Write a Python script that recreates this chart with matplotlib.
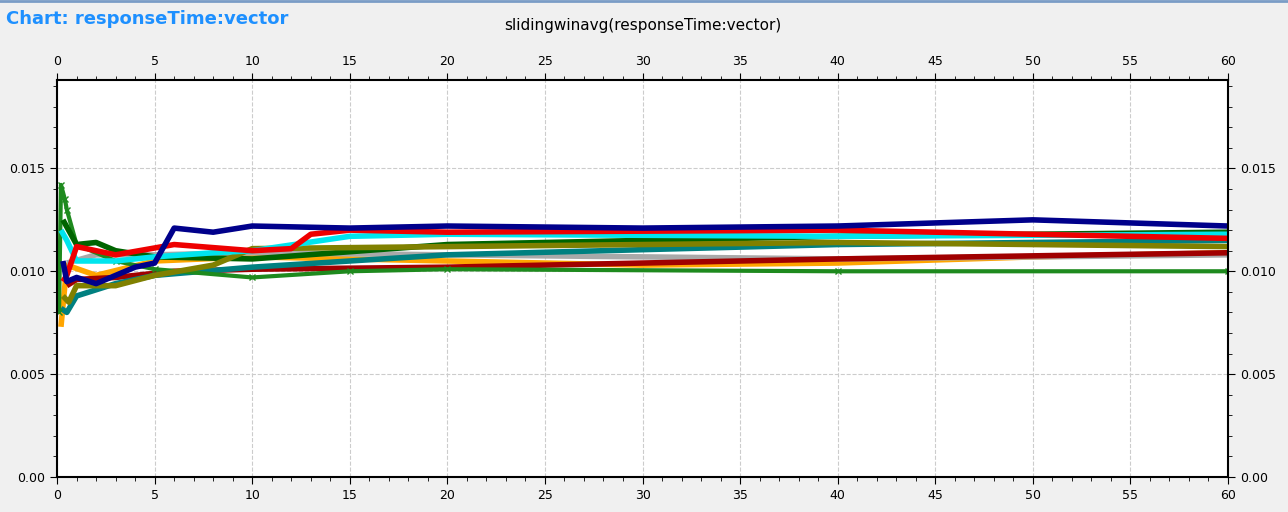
import matplotlib.pyplot as plt
from matplotlib.ticker import MultipleLocator

# series: (color, times, values in units of 1e-3, marker)
navy_t = [0.3, 0.5, 1, 2, 3, 4, 5, 6, 8, 10, 15, 20, 30, 40, 50, 60]
navy_v = [10.5, 9.5, 9.7, 9.4, 9.8, 10.2, 10.4, 12.1, 11.9, 12.2, 12.1, 12.2, 12.1, 12.2, 12.5, 12.2]
red_t = [0.3, 0.5, 1, 3, 6, 10, 12, 13, 15, 20, 40, 60]
red_v = [9.5, 9.8, 11.2, 10.8, 11.3, 11.0, 11.1, 11.8, 12.0, 11.9, 12.0, 11.6]
green_t = [0.3, 1, 2, 3, 5, 10, 20, 30, 40, 60]
green_v = [12.5, 11.3, 11.4, 11.0, 10.7, 10.6, 11.3, 11.5, 11.7, 11.9]
cyan_t = [0.2, 0.5, 1, 3, 5, 8, 10, 15, 20, 40, 60]
cyan_v = [12.0, 11.5, 10.5, 10.5, 10.7, 10.9, 11.0, 11.7, 11.8, 11.7, 11.8]
teal_t = [0.2, 0.5, 1, 3, 5, 10, 20, 40, 60]
teal_v = [8.2, 8.0, 8.8, 9.4, 9.8, 10.2, 10.8, 11.3, 11.5]
olive_t = [0.3, 0.6, 1, 3, 5, 8, 10, 20, 40, 50, 60]
olive_v = [8.8, 8.5, 9.3, 9.3, 9.8, 10.3, 11.1, 11.2, 11.4, 11.3, 11.2]
darkred_t = [0.5, 1, 3, 6, 10, 20, 40, 60]
darkred_v = [9.3, 9.6, 9.7, 10.0, 10.1, 10.2, 10.6, 10.9]
orange_t = [0.2, 0.5, 2, 5, 10, 20, 30, 40, 50, 60]
orange_v = [7.3, 10.3, 9.8, 10.5, 10.7, 10.5, 10.3, 10.4, 10.7, 10.9]
gray_t = [0.5, 2, 5, 10, 20, 40, 60]
gray_v = [10.4, 10.8, 10.8, 10.9, 10.8, 10.6, 10.8]
lgreen_t = [0.1, 0.2, 0.4, 0.5, 1, 3, 5, 10, 15, 20, 40, 60]
lgreen_v = [8.0, 14.2, 13.5, 13.0, 11.3, 10.5, 10.1, 9.7, 10.0, 10.1, 10.0, 10.0]

series = [
    ("#ffa500", orange_t, orange_v, None),
    ("#a9a9a9", gray_t, gray_v, None),
    ("#a00000", darkred_t, darkred_v, None),
    ("#008080", teal_t, teal_v, None),
    ("#1e8a1e", lgreen_t, lgreen_v, "x"),
    ("#006400", green_t, green_v, None),
    ("#808000", olive_t, olive_v, None),
    ("#00e5ee", cyan_t, cyan_v, None),
    ("#ee0000", red_t, red_v, None),
    ("#00008b", navy_t, navy_v, None),
]

fig = plt.figure(figsize=(12.88, 5.12), dpi=100, facecolor="#f0f0f0")
fig.text(0.005, 0.963, "Chart: responseTime:vector", color="#1e90ff",
         fontsize=13, fontweight="bold", va="center")
fig.add_artist(plt.Line2D([0, 1], [0.998, 0.998], color="#7a9cc6", lw=2))

ax = fig.add_axes([0.0443, 0.0684, 0.9091, 0.7754])
for col, t, v, m in series:
    ax.plot(t, [x / 1000 for x in v], color=col, lw=4 if m is None else 3,
            marker=m, markersize=4, solid_capstyle="butt")

ax.set_xlim(0, 60)
ax.set_ylim(0, 0.0193)
ax.xaxis.set_major_locator(MultipleLocator(5))
ax.xaxis.set_minor_locator(MultipleLocator(1))
ax.yaxis.set_major_locator(MultipleLocator(0.005))
ax.yaxis.set_minor_locator(MultipleLocator(0.001))
ax.yaxis.set_major_formatter(plt.FuncFormatter(lambda v, p: "0.00" if v == 0 else f"{v:.3f}"))
ax.tick_params(which="both", direction="out", top=True, right=True,
               labeltop=True, labelright=True, labelsize=9)
ax.tick_params(which="major", length=5)
ax.tick_params(which="minor", length=3)
ax.grid(True, ls="--", color="#cccccc", lw=0.8)
for s in ax.spines.values():
    s.set_linewidth(1.5)
ax.set_title("slidingwinavg(responseTime:vector)", fontsize=11, pad=18)
fig.savefig("out.png", dpi=100, facecolor=fig.get_facecolor())
